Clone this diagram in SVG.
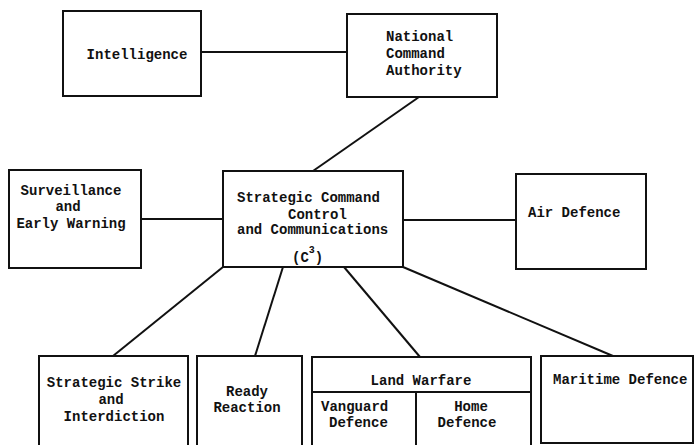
<svg xmlns="http://www.w3.org/2000/svg" width="695" height="445" viewBox="0 0 695 445">
  <style>
    .box { fill: #fff; stroke: #111; stroke-width: 2; }
    .link { stroke: #111; stroke-width: 2; fill: none; }
    text { font-family: "Liberation Mono", "Courier New", monospace; font-weight: bold; font-size: 14px; fill: #111; }
    .mid { text-anchor: middle; }
    .sup { font-size: 10px; }
  </style>
  <rect width="695" height="445" fill="#fff"/>

  <!-- connectors -->
  <g id="connectors">
    <line class="link" x1="201" y1="52" x2="347" y2="52"/>
    <line class="link" x1="419" y1="97" x2="313" y2="171"/>
    <line class="link" x1="141" y1="219" x2="223" y2="219"/>
    <line class="link" x1="403" y1="220" x2="516" y2="220"/>
    <line class="link" x1="223" y1="267" x2="113" y2="356"/>
    <line class="link" x1="283" y1="267" x2="255" y2="356"/>
    <line class="link" x1="344" y1="267" x2="420" y2="357"/>
    <line class="link" x1="403" y1="267" x2="613" y2="356"/>
  </g>

  <g id="intelligence">
    <rect class="box" x="63" y="11" width="138" height="85"/>
    <text class="mid" x="137" y="59">Intelligence</text>
  </g>

  <g id="nca">
    <rect class="box" x="347" y="14" width="150" height="83"/>
    <text x="386" y="41">National</text>
    <text x="386" y="58">Command</text>
    <text x="386" y="75">Authority</text>
  </g>

  <g id="surveillance">
    <rect class="box" x="9" y="170" width="132" height="98"/>
    <text class="mid" x="71" y="195">Surveillance</text>
    <text class="mid" x="68" y="211">and</text>
    <text class="mid" x="71" y="228">Early Warning</text>
  </g>

  <g id="c3">
    <rect class="box" x="223" y="171" width="180" height="96"/>
    <text x="237" y="202">Strategic Command</text>
    <text x="288" y="219">Control</text>
    <text x="237" y="234">and Communications</text>
    <text x="292" y="262">(C<tspan class="sup" dy="-9">3</tspan><tspan dy="9">)</tspan></text>
  </g>

  <g id="air-defence">
    <rect class="box" x="516" y="174" width="130" height="95"/>
    <text x="528" y="217">Air Defence</text>
  </g>

  <g id="strategic-strike">
    <rect class="box" x="39" y="356" width="149" height="100"/>
    <text class="mid" x="114" y="387">Strategic Strike</text>
    <text class="mid" x="111" y="404">and</text>
    <text class="mid" x="114" y="421">Interdiction</text>
  </g>

  <g id="ready-reaction">
    <rect class="box" x="197" y="356" width="105" height="100"/>
    <text class="mid" x="247" y="396">Ready</text>
    <text class="mid" x="247" y="412">Reaction</text>
  </g>

  <g id="land-warfare">
    <rect class="box" x="312" y="357" width="219" height="100"/>
    <line class="link" x1="312" y1="392" x2="531" y2="392"/>
    <line class="link" x1="416" y1="392" x2="416" y2="457"/>
    <text class="mid" x="421" y="385">Land Warfare</text>
    <text x="321" y="411">Vanguard</text>
    <text x="329" y="427">Defence</text>
    <text class="mid" x="471" y="411">Home</text>
    <text class="mid" x="467" y="427">Defence</text>
  </g>

  <g id="maritime-defence">
    <rect class="box" x="541" y="356" width="152" height="87"/>
    <text x="553" y="384">Maritime Defence</text>
  </g>
</svg>
